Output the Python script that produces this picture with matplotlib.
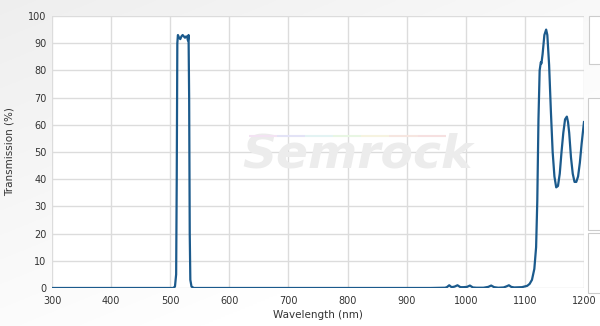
import matplotlib
matplotlib.use("Agg")
import matplotlib.pyplot as plt
from matplotlib.patches import Rectangle
import numpy as np

# Data
wavelength = [300, 505, 508, 510, 511, 512, 513, 515, 517, 519, 521, 523, 525, 527, 529, 530,
              531, 532, 533, 534, 536, 540, 940, 965, 968, 972, 976, 981, 986, 991, 996,
              1002, 1007, 1012, 1018, 1030, 1038, 1043, 1048, 1055, 1064, 1069, 1073, 1077,
              1082, 1095, 1104, 1108, 1112, 1116, 1119, 1121, 1123, 1125, 1127, 1128,
              1130, 1133, 1136, 1138, 1141, 1144, 1147, 1150, 1153, 1156, 1159, 1162,
              1165, 1168, 1171, 1173, 1175, 1178, 1181, 1184, 1187, 1190, 1193, 1196, 1200]
transmission = [0, 0, 0.5, 5, 40, 90, 93, 92, 91.5, 92.5, 93, 92.5, 92, 92.5, 92, 91,
                93, 70, 20, 3, 0.5, 0, 0, 0.1, 0.3, 1.0, 0.3, 0.5, 1.0, 0.3, 0.3,
                0.4, 0.9, 0.2, 0.1, 0.1, 0.4, 0.9, 0.3, 0.1, 0.2, 0.6, 1.0, 0.4,
                0.2, 0.3, 0.8, 1.5, 3, 7, 15, 32, 62, 80, 83, 82.5,
                86, 93, 95, 93, 82, 65, 50, 41, 37, 37.5, 42, 50,
                57, 62, 63, 61, 57, 48, 42, 39, 39, 41, 46, 53, 61]

x_ticks = [300, 400, 500, 600, 700, 800, 900, 1000, 1100, 1200]
y_ticks = [0, 10, 20, 30, 40, 50, 60, 70, 80, 90, 100]

fig = plt.figure(figsize=(6.0, 3.26), dpi=100)
# light gradient background (grey at top-left, white towards bottom-right)
yy, xx = np.mgrid[0:1:200j, 0:1:300j]
g = 0.935 + 0.065 * np.clip(0.6 * xx + 0.8 * yy, 0, 1)
bg = fig.add_axes([0, 0, 1, 1], zorder=-10)
bg.imshow(np.dstack([g, g, g]), aspect='auto', extent=[0, 1, 0, 1], origin='upper')
bg.axis('off')

ax = fig.add_axes([0.0867, 0.1166, 0.8866, 0.8344])
ax.set_facecolor('white')
ax.plot(wavelength, transmission, color='#1b5a8c', lw=1.6, solid_joinstyle='round', zorder=3)

ax.set_xlim(300, 1200)
ax.set_ylim(0, 100)
ax.set_xticks(x_ticks)
ax.set_yticks(y_ticks)
ax.grid(True, color='#dcdcdc', lw=1.0)
ax.set_axisbelow(True)
for s in ax.spines.values():
    s.set_visible(False)
ax.tick_params(axis='y', length=0, labelsize=7, colors='#333333', pad=4)
ax.tick_params(axis='x', length=0, labelsize=7, colors='#333333', pad=6)
ax.set_xlabel('Wavelength (nm)', fontsize=7.5, color='#333333', labelpad=3)
ax.set_ylabel('Transmission (%)', fontsize=7.5, color='#333333', labelpad=10)

# watermark
ax.text(0.575, 0.49, 'Semrock', transform=ax.transAxes, fontsize=34, fontweight='bold',
        style='italic', color='#ececec', ha='center', va='center', zorder=1)
# faint rainbow streak above watermark
cols = ['#f3e3f3', '#e3e3f6', '#e3f3f3', '#e8f6e3', '#f6f3e0', '#f6e6e0', '#f6e0e0']
xs = np.linspace(0.37, 0.74, len(cols) + 1)
for i, c in enumerate(cols):
    ax.plot([xs[i], xs[i + 1]], [0.56, 0.56], transform=ax.transAxes, color=c,
            lw=1.5, zorder=1, solid_capstyle='butt')

# right side panel boxes
for (x0, y0, w, h) in [(589, 16, 14, 48), (588, 98, 14, 132), (588, 233, 14, 60)]:
    fig.patches.append(Rectangle((x0 / 600, 1 - (y0 + h) / 326), w / 600, h / 326,
                                 transform=fig.transFigure, facecolor='white',
                                 edgecolor='#cccccc', lw=0.8))

fig.savefig('out.png', dpi=100)
